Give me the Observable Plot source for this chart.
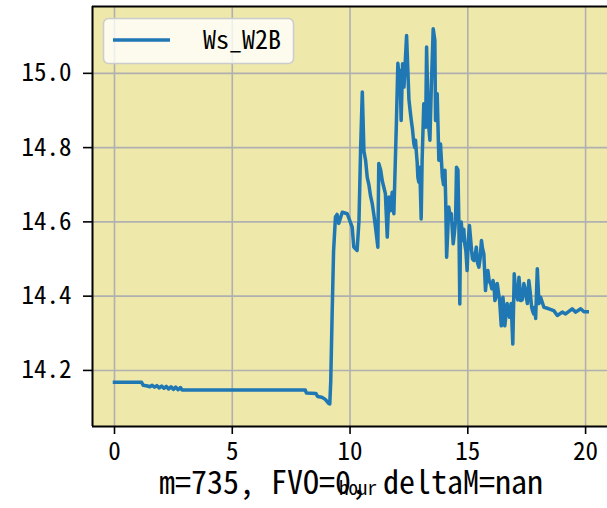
<!DOCTYPE html>
<html>
<head>
<meta charset="utf-8">
<script src="https://cdn.jsdelivr.net/npm/d3@7"></script>
<script src="https://cdn.jsdelivr.net/npm/@observablehq/plot@0.6"></script>
<style>
  html, body { margin: 0; padding: 0; background: #ffffff; }
  #chart { width: 607px; height: 508px; overflow: hidden; }
</style>
</head>
<body>
<div id="chart"></div>
<script>
// ---- data ----
const seriesName = "Ws_W2B";
const hours = [
  0.00, 1.15, 1.22, 1.40, 1.50, 1.60, 1.70, 1.80, 1.90, 2.00,
  2.10, 2.20, 2.30, 2.40, 2.50, 2.60, 2.70, 2.80, 2.87, 8.10,
  8.15, 8.55, 8.62, 8.80, 8.95, 9.08, 9.14, 9.18, 9.24, 9.30,
  9.38, 9.45, 9.52, 9.67, 9.88, 10.09, 10.16, 10.30, 10.38, 10.45,
  10.52, 10.59, 10.66, 10.73, 10.80, 10.87, 10.94, 11.01, 11.08, 11.18,
  11.22, 11.30, 11.37, 11.50, 11.58, 11.65, 11.72, 11.79, 11.86, 11.97,
  12.03, 12.08, 12.12, 12.17, 12.23, 12.29, 12.40, 12.50, 12.55, 12.60,
  12.65, 12.71, 12.75, 12.78, 12.82, 12.85, 12.88, 12.92, 12.96, 13.02,
  13.06, 13.13, 13.21, 13.25, 13.32, 13.39, 13.45, 13.53, 13.60, 13.63,
  13.70, 13.77, 13.84, 13.92, 13.97, 14.03, 14.06, 14.10, 14.14, 14.19,
  14.24, 14.30, 14.34, 14.38, 14.43, 14.48, 14.52, 14.58, 14.62, 14.66,
  14.69, 14.72, 14.76, 14.80, 14.83, 14.87, 14.92, 14.97, 15.02, 15.07,
  15.11, 15.16, 15.20, 15.26, 15.31, 15.36, 15.41, 15.47, 15.52, 15.58,
  15.62, 15.68, 15.75, 15.80, 15.85, 15.91, 15.97, 16.02, 16.07, 16.11,
  16.15, 16.20, 16.25, 16.30, 16.35, 16.42, 16.45, 16.49, 16.53, 16.57,
  16.62, 16.67, 16.72, 16.77, 16.84, 16.91, 16.97, 17.02, 17.06, 17.12,
  17.17, 17.20, 17.24, 17.31, 17.38, 17.43, 17.48, 17.53, 17.59, 17.65,
  17.71, 17.75, 17.80, 17.84, 17.88, 17.95, 18.02, 18.09, 18.23, 18.44,
  18.65, 18.80, 19.01, 19.15, 19.43, 19.58, 19.79, 19.93, 20.07
];
const wsW2B = [
  14.168, 14.168, 14.160, 14.158, 14.156, 14.160, 14.155, 14.159, 14.153, 14.158,
  14.152, 14.157, 14.150, 14.156, 14.149, 14.155, 14.148, 14.154, 14.147, 14.147,
  14.139, 14.138, 14.130, 14.128, 14.122, 14.112, 14.110, 14.170, 14.353, 14.520,
  14.613, 14.620, 14.596, 14.626, 14.622, 14.586, 14.532, 14.523, 14.604, 14.800,
  14.950, 14.790, 14.766, 14.720, 14.700, 14.670, 14.650, 14.620, 14.586, 14.532,
  14.757, 14.740, 14.710, 14.676, 14.559, 14.667, 14.630, 14.680, 14.622, 14.873,
  15.027, 14.990, 15.008, 14.873, 15.026, 14.963, 15.102, 14.930, 14.900, 14.873,
  14.850, 14.810, 14.800, 14.820, 14.784, 14.760, 14.720, 14.707, 14.747, 14.608,
  14.766, 14.918, 14.855, 15.071, 14.873, 14.820, 14.963, 15.120, 15.089, 14.873,
  14.945, 14.766, 14.810, 14.720, 14.700, 14.739, 14.660, 14.505, 14.560, 14.640,
  14.620, 14.622, 14.580, 14.541, 14.570, 14.604, 14.747, 14.740, 14.600, 14.379,
  14.580, 14.600, 14.569, 14.550, 14.580, 14.541, 14.520, 14.469, 14.550, 14.590,
  14.560, 14.523, 14.500, 14.496, 14.510, 14.532, 14.490, 14.478, 14.500, 14.550,
  14.530, 14.514, 14.415, 14.450, 14.469, 14.440, 14.433, 14.420, 14.442, 14.430,
  14.388, 14.400, 14.434, 14.410, 14.388, 14.320, 14.360, 14.397, 14.370, 14.320,
  14.350, 14.380, 14.360, 14.343, 14.380, 14.271, 14.460, 14.420, 14.407, 14.390,
  14.451, 14.430, 14.388, 14.390, 14.434, 14.420, 14.397, 14.380, 14.442, 14.410,
  14.370, 14.360, 14.352, 14.370, 14.340, 14.474, 14.380, 14.397, 14.370, 14.366,
  14.361, 14.348, 14.357, 14.352, 14.366, 14.357, 14.366, 14.358, 14.358
];
const xTicks = [0, 5, 10, 15, 20];
const yTicks = [14.2, 14.4, 14.6, 14.8, 15.0];
const xLabel = "hour";
const bottomText = "m=735, FVO=0, deltaM=nan";

const data = hours.map((h, i) => ({hour: h, value: wsW2B[i]}));

const FONT = "'Noto Sans Mono CJK SC', 'Noto Sans CJK SC', 'DejaVu Sans Mono', monospace";
const xDom = [-0.934, 20.93];
const yDom = [14.049, 15.18];

const chart = Plot.plot({
  width: 607,
  height: 508,
  marginLeft: 92,
  marginRight: 0,
  marginTop: 6,
  marginBottom: 82,
  style: {fontFamily: FONT, background: "#ffffff", color: "#000000", overflow: "visible"},
  x: {domain: xDom},
  y: {domain: yDom},
  marks: [
    Plot.frame({fill: "#EEE8AA", stroke: null}),
    Plot.gridX(xTicks, {stroke: "#b0b0b0", strokeOpacity: 1, strokeWidth: 1.6}),
    Plot.gridY(yTicks, {stroke: "#b0b0b0", strokeOpacity: 1, strokeWidth: 1.6}),
    Plot.line(data, {x: "hour", y: "value", stroke: "#1f77b4", strokeWidth: 3.5, strokeLinejoin: "round", strokeLinecap: "square"}),
    Plot.ruleX([xDom[0]], {stroke: "#000", strokeWidth: 2}),
    Plot.ruleY([yDom[0], yDom[1]], {stroke: "#000", strokeWidth: 2}),
    Plot.axisX(xTicks, {tickSize: 8, tickPadding: 8, fontSize: 25, label: null, strokeWidth: 1.6}),
    Plot.axisY(yTicks, {tickSize: 9, tickPadding: 12, fontSize: 25, label: null, tickFormat: d => d.toFixed(1), strokeWidth: 1.6}),
    Plot.text([xLabel], {frameAnchor: "bottom", lineAnchor: "bottom", dx: 8, dy: 68, fontSize: 19, fill: "#000"}),
    Plot.text([bottomText], {frameAnchor: "bottom", lineAnchor: "bottom", dx: 1, dy: 67, fontSize: 32, fill: "#000"})
  ]
});

document.getElementById("chart").appendChild(chart);

// legend box (upper left inside axes)
const svg = d3.select(chart);
const lg = svg.append("g").attr("class", "legend");
lg.append("rect")
  .attr("x", 103.5).attr("y", 18.5).attr("width", 190).attr("height", 45)
  .attr("rx", 5).attr("ry", 5)
  .attr("fill", "#ffffff").attr("fill-opacity", 0.8)
  .attr("stroke", "#cccccc").attr("stroke-width", 1.5);
lg.append("line")
  .attr("x1", 113).attr("x2", 170).attr("y1", 40).attr("y2", 40)
  .attr("stroke", "#1f77b4").attr("stroke-width", 3.5);
lg.append("text")
  .attr("x", 203).attr("y", 48.5)
  .attr("text-anchor", "start")
  .attr("font-family", FONT).attr("font-size", 26).attr("fill", "#000")
  .text(seriesName);
</script>
</body>
</html>
